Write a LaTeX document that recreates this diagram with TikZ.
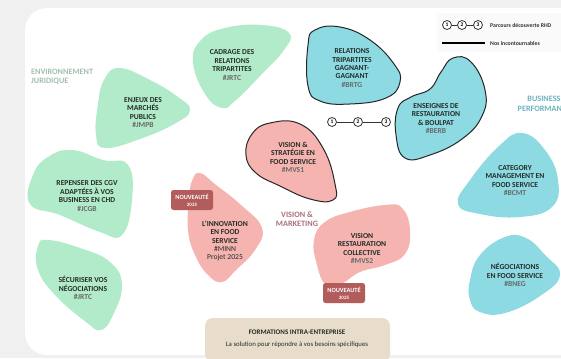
\documentclass[tikz,border=0pt]{standalone}
\usepackage{fontspec}
\setmainfont{Carlito}
\definecolor{cbg}{RGB}{240,240,240}
\definecolor{cgreen}{RGB}{178,235,202}
\definecolor{cpink}{RGB}{246,180,176}
\definecolor{ccyan}{RGB}{141,218,226}
\definecolor{cbadge}{RGB}{178,92,92}
\definecolor{cbeige}{RGB}{232,221,202}
\definecolor{ctext}{RGB}{36,44,40}
\definecolor{cenv}{RGB}{160,192,172}
\definecolor{cvm}{RGB}{172,112,122}
\definecolor{cbp}{RGB}{108,178,192}
\tikzset{
  blobgreen/.style={fill=cgreen},
  blobpink/.style={fill=cpink},
  blobcyan/.style={fill=ccyan},
  outlined/.style={draw=black!85, line width=1pt},
  blobtext/.style={align=center, text=ctext, inner sep=0pt, font=\bfseries\fontsize{7.6}{8.4}\selectfont},
  badge/.style={fill=cbadge, rounded corners=2.5pt, minimum width=42pt, minimum height=20pt, inner sep=0pt, align=center, text=white, font=\bfseries\fontsize{6.3}{6.8}\selectfont},
  grouplabel/.style={font=\bfseries\fontsize{8.2}{9.4}\selectfont, inner sep=0pt},
  stepcirc/.style={circle, draw=black!80, line width=0.8pt, fill=white, minimum size=9pt, inner sep=0pt, font=\bfseries\fontsize{5.5}{6}\selectfont},
  legtext/.style={anchor=west, inner sep=0pt, font=\bfseries\fontsize{5.8}{6.5}\selectfont, text=black!80},
}
\newcommand{\htag}[1]{{\color{ctext!70}#1}}
\newcommand{\htagr}[1]{{\mdseries #1}}
\begin{document}
\begin{tikzpicture}[x=1pt,y=-1pt]
\useasboundingbox (0,0) rectangle (561,358);
\clip (0,0) rectangle (561,358);
\fill[cbg] (0,0) rectangle (561,358);
\fill[white, rounded corners=22pt] (25,8) rectangle (600,355);
% legend box
\fill[black!2] (437,13) rectangle (561,52);

% ---------- green blobs ----------
\fill[blobgreen] plot[smooth cycle, tension=0.75] coordinates {(193,62) (201,40) (225,28) (262,25) (289,33) (284,50) (260,76) (236,100) (222,108) (205,94)};
\node[blobtext] (jrtc1) at (232,65) {CADRAGE DES\\RELATIONS\\TRIPARTITES\\\htag{\#JRTC}};

\fill[blobgreen] plot[smooth cycle, tension=0.75] coordinates {(104,80) (119,68) (150,80) (178,97) (190,110) (176,123) (140,139) (105,148) (96,135) (98,104)};
\node[blobtext] (jmpb) at (143,112.5) {ENJEUX DES\\MARCHÉS\\PUBLICS\\\htag{\#JMPB}};

\fill[blobgreen] plot[smooth cycle, tension=0.75] coordinates {(33,175) (48,157) (72,150) (103,160) (128,165) (132,200) (122,235) (100,232) (60,215) (30,204)};
\node[blobtext] (jcgb) at (87,196) {REPENSER DES CGV\\ADAPTÉES À VOS\\BUSINESS EN CHD\\\htag{\#JCGB}};

\fill[blobgreen] plot[smooth cycle, tension=0.75] coordinates {(38,246) (48,240) (80,248) (110,262) (122,285) (113,315) (101,330) (86,322) (56,296) (38,270)};
\node[blobtext] (jrtc2) at (83,288) {SÉCURISER VOS\\NÉGOCIATIONS\\\htag{\#JRTC}};

\node[grouplabel, text=cenv, align=left, anchor=west] (envj) at (31,77) {ENVIRONNEMENT\\JURIDIQUE};

% ---------- pink blobs ----------
\fill[blobpink] plot[smooth cycle, tension=0.75] coordinates {(189,200) (192,181) (200,173) (216,185) (241,205) (262,228) (255,250) (236,270) (222,282) (208,275) (195,255) (188,230)};
\node[blobtext] (minn) at (225,241) {L'INNOVATION\\EN FOOD\\SERVICE\\\htagr{\#MINN}\\\htagr{Projet 2025}};
\node[badge] (new1) at (192,200) {NOUVEAUTÉ\\{\fontsize{5}{5.5}\selectfont 2025}};

\filldraw[blobpink, outlined] plot[smooth cycle, tension=0.75] coordinates {(246,155) (252,134) (270,123) (300,124) (323,148) (335,184) (333,200) (310,199) (280,186) (256,173)};
\node[blobtext] (mvs1) at (293,157.5) {VISION \&\\STRATÉGIE EN\\FOOD SERVICE\\\htag{\#MVS1}};

\fill[blobpink] plot[smooth cycle, tension=0.75] coordinates {(314,240) (325,222) (350,212) (385,205) (402,208) (410,230) (405,254) (385,265) (360,272) (341,284) (326,285) (317,265)};
\node[blobtext] (mvs2) at (362,248.5) {VISION\\RESTAURATION\\COLLECTIVE\\\htag{\#MVS2}};
\node[badge] (new2) at (344,293) {NOUVEAUTÉ\\{\fontsize{5}{5.5}\selectfont 2025}};

\node[grouplabel, text=cvm, align=center] (vm) at (297,219) {VISION \&\\MARKETING};

% ---------- cyan blobs ----------
\filldraw[blobcyan, outlined] plot[smooth cycle, tension=0.75] coordinates {(308,45) (315,30) (340,27) (370,40) (394,64) (400,82) (386,98) (350,104) (320,101) (308,86)};
\node[blobtext] (brtg) at (352,68) {RELATIONS\\TRIPARTITES\\GAGNANT-\\GAGNANT\\\htag{\#BRTG}};

\filldraw[blobcyan, outlined] plot[smooth cycle, tension=0.75] coordinates {(398,108) (411,97) (430,89) (441,72) (453,58) (471,62) (485,90) (482,116) (462,139) (430,155) (405,158) (396,135)};
\node[blobtext] (berb) at (436,118.5) {ENSEIGNES DE\\RESTAURATION\\\& BOULPAT\\\htag{\#BERB}};

\fill[blobcyan] plot[smooth cycle, tension=0.75] coordinates {(470,180) (499,146) (522,133) (545,150) (558,180) (552,207) (520,217) (480,214) (458,204)};
\node[blobtext] (bcmt) at (515,180.5) {CATEGORY\\MANAGEMENT EN\\FOOD SERVICE\\\htag{\#BCMT}};

\fill[blobcyan] plot[smooth cycle, tension=0.75] coordinates {(470,280) (480,255) (505,237) (526,238) (545,255) (560,275) (540,296) (505,313) (480,312) (470,300)};
\node[blobtext] (bneg) at (515,275) {NÉGOCIATIONS\\EN FOOD SERVICE\\\htag{\#BNEG}};

\node[grouplabel, text=cbp, align=center] (bperf) at (544,104) {BUSINESS\\PERFORMANCE};

% ---------- parcours 1-2-3 ----------
\node[stepcirc] (p1) at (332,122) {1};
\node[stepcirc] (p2) at (358,122) {2};
\node[stepcirc] (p3) at (386,122) {3};
\draw[black!80, line width=0.8pt] (p1) -- (p2) (p2) -- (p3);

% ---------- legend ----------
\node[stepcirc] (l1) at (447,25) {1};
\node[stepcirc] (l2) at (462,25) {2};
\node[stepcirc] (l3) at (478,25) {3};
\draw[black!80, line width=0.8pt] (l1) -- (l2) (l2) -- (l3);
\node[legtext] (legp) at (490,25) {Parcours découverte RHD};
\coordinate (la) at (442,43);
\coordinate (lb) at (485,43);
\draw[black, line width=1.6pt] (la) -- (lb);
\node[legtext] (legn) at (490,43) {Nos incontournables};

% ---------- formations ----------
\fill[cbeige, rounded corners=8pt] (205,318) rectangle (390,362);
\node[align=center, inner sep=0pt, text=ctext] (form) at (297,338.5) {{\bfseries\fontsize{7}{8.5}\selectfont FORMATIONS INTRA-ENTREPRISE}\\{\fontsize{6.8}{8.5}\selectfont La solution pour répondre à vos besoins spécifiques}};
\end{tikzpicture}
\end{document}
